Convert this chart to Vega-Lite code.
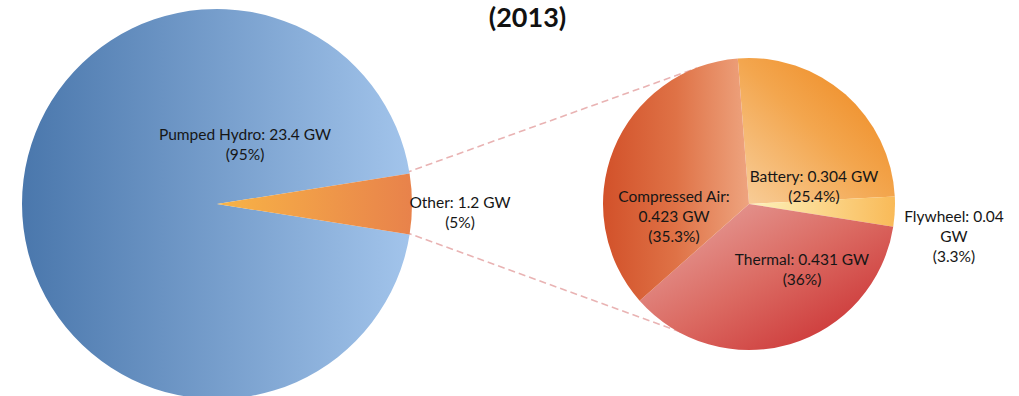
{
  "$schema": "https://vega.github.io/schema/vega-lite/v6.json",
  "width": 1019,
  "height": 396,
  "autosize": "none",
  "padding": {"left": 0, "right": 0, "top": 6, "bottom": 0},
  "background": "white",
  "config": {"view": {"stroke": null}, "text": {"font": "Lato", "fontSize": 15.5, "color": "#161616", "lineBreak": "\n", "lineHeight": 20, "align": "center", "baseline": "middle"}},
  "title": {"text": "(2013)", "font": "Lato", "fontSize": 27, "fontWeight": "bold", "color": "#111111", "offset": -27, "dx": 18},
  "datasets": {
    "storage": [
      {"pie": "Total", "slice": "Other", "gw": 1.2, "pct": 5, "order": 0, "label": "Other: 1.2 GW\n(5%)"},
      {"pie": "Total", "slice": "Pumped Hydro", "gw": 23.4, "pct": 95, "order": 1, "label": "Pumped Hydro: 23.4 GW\n(95%)"},
      {"pie": "Other", "slice": "Battery", "gw": 0.304, "pct": 25.4, "order": 0, "label": "Battery: 0.304 GW\n(25.4%)"},
      {"pie": "Other", "slice": "Flywheel", "gw": 0.04, "pct": 3.3, "order": 1, "label": "Flywheel: 0.04\nGW\n(3.3%)"},
      {"pie": "Other", "slice": "Thermal", "gw": 0.431, "pct": 36, "order": 2, "label": "Thermal: 0.431 GW\n(36%)"},
      {"pie": "Other", "slice": "Compressed Air", "gw": 0.423, "pct": 35.3, "order": 3, "label": "Compressed Air:\n0.423 GW\n(35.3%)"}
    ],
    "connectors": [
      {"link": "top", "from_x": 405, "from_y": 173, "to_x": 697, "to_y": 68},
      {"link": "bottom", "from_x": 405, "from_y": 232, "to_x": 686, "to_y": 334}
    ]
  },
  "layer": [
    {
      "data": {"name": "connectors"},
      "mark": {"type": "rule", "stroke": "#e9b3b3", "strokeWidth": 1.6, "strokeDash": [7, 4]},
      "encoding": {
        "x": {"field": "from_x", "type": "quantitative", "scale": {"domain": [0, 1019], "range": [0, 1019]}, "axis": null},
        "x2": {"field": "to_x"},
        "y": {"field": "from_y", "type": "quantitative", "scale": {"domain": [6, 402], "range": [0, 396]}, "axis": null},
        "y2": {"field": "to_y"}
      }
    },
    {
      "data": {"name": "storage"},
      "transform": [
        {"stack": "pct", "groupby": ["pie"], "sort": [{"field": "order", "order": "ascending"}], "as": ["v0", "v1"]},
        {"filter": "datum.pie === 'Total'"}
      ],
      "encoding": {
        "x": {"field": "pie", "type": "nominal", "scale": {"type": "point", "padding": 0, "domain": ["Total", "Other"], "range": [217, 749]}, "axis": null}
      },
      "layer": [
        {
          "transform": [{"filter": "datum.slice === 'Pumped Hydro'"}],
          "mark": {"type": "arc", "outerRadius": 195, "fill": {"gradient": "linear", "x1": 0, "y1": 0.5, "x2": 1, "y2": 0.5, "stops": [{"offset": 0, "color": "#4a77ac"}, {"offset": 1, "color": "#a2c4eb"}]}},
          "encoding": {
            "theta": {"field": "v0", "type": "quantitative", "scale": {"domain": [0, 100], "range": [1.4137, 7.6969]}},
            "theta2": {"field": "v1"}
          }
        },
        {
          "transform": [{"filter": "datum.slice === 'Other'"}],
          "mark": {"type": "arc", "outerRadius": 195, "fill": {"gradient": "linear", "x1": 0, "y1": 0.5, "x2": 1, "y2": 0.5, "stops": [{"offset": 0, "color": "#f8b446"}, {"offset": 1, "color": "#e8824b"}]}},
          "encoding": {
            "theta": {"field": "v0", "type": "quantitative", "scale": {"domain": [0, 100], "range": [1.4137, 7.6969]}},
            "theta2": {"field": "v1"}
          }
        },
        {
          "transform": [{"filter": "datum.slice === 'Pumped Hydro'"}],
          "mark": {"type": "text", "dx": 28, "dy": -69},
          "encoding": {"text": {"field": "label", "type": "nominal"}}
        },
        {
          "transform": [{"filter": "datum.slice === 'Other'"}],
          "mark": {"type": "text", "dx": 243, "dy": -1},
          "encoding": {"text": {"field": "label", "type": "nominal"}}
        }
      ]
    },
    {
      "data": {"name": "storage"},
      "transform": [
        {"stack": "pct", "groupby": ["pie"], "sort": [{"field": "order", "order": "ascending"}], "as": ["v0", "v1"]},
        {"filter": "datum.pie === 'Other'"}
      ],
      "encoding": {
        "x": {"field": "pie", "type": "nominal", "scale": {"type": "point", "padding": 0, "domain": ["Total", "Other"], "range": [217, 749]}, "axis": null}
      },
      "layer": [
        {
          "transform": [{"filter": "datum.slice === 'Battery'"}],
          "mark": {"type": "arc", "outerRadius": 146, "fill": {"gradient": "linear", "x1": 1, "y1": 0, "x2": 0, "y2": 1, "stops": [{"offset": 0, "color": "#ed8216"}, {"offset": 0.5, "color": "#f3a64e"}, {"offset": 1, "color": "#f8cf9c"}]}},
          "encoding": {
            "theta": {"field": "v0", "type": "quantitative", "scale": {"domain": [0, 100], "range": [-0.0768, 6.2064]}},
            "theta2": {"field": "v1"}
          }
        },
        {
          "transform": [{"filter": "datum.slice === 'Flywheel'"}],
          "mark": {"type": "arc", "outerRadius": 146, "fill": {"gradient": "linear", "x1": 0, "y1": 0.5, "x2": 1, "y2": 0.5, "stops": [{"offset": 0, "color": "#fdf2bc"}, {"offset": 1, "color": "#f9ba58"}]}},
          "encoding": {
            "theta": {"field": "v0", "type": "quantitative", "scale": {"domain": [0, 100], "range": [-0.0768, 6.2064]}},
            "theta2": {"field": "v1"}
          }
        },
        {
          "transform": [{"filter": "datum.slice === 'Thermal'"}],
          "mark": {"type": "arc", "outerRadius": 146, "fill": {"gradient": "linear", "x1": 0, "y1": 0, "x2": 1, "y2": 1, "stops": [{"offset": 0, "color": "#e8aaa6"}, {"offset": 0.5, "color": "#db6a62"}, {"offset": 1, "color": "#c72428"}]}},
          "encoding": {
            "theta": {"field": "v0", "type": "quantitative", "scale": {"domain": [0, 100], "range": [-0.0768, 6.2064]}},
            "theta2": {"field": "v1"}
          }
        },
        {
          "transform": [{"filter": "datum.slice === 'Compressed Air'"}],
          "mark": {"type": "arc", "outerRadius": 146, "fill": {"gradient": "linear", "x1": 0, "y1": 0.5, "x2": 1, "y2": 0.5, "stops": [{"offset": 0, "color": "#d2512a"}, {"offset": 0.5, "color": "#df7246"}, {"offset": 1, "color": "#eea47f"}]}},
          "encoding": {
            "theta": {"field": "v0", "type": "quantitative", "scale": {"domain": [0, 100], "range": [-0.0768, 6.2064]}},
            "theta2": {"field": "v1"}
          }
        },
        {
          "transform": [{"filter": "datum.slice === 'Compressed Air'"}],
          "mark": {"type": "text", "dx": -75, "dy": -7},
          "encoding": {"text": {"field": "label", "type": "nominal"}}
        },
        {
          "transform": [{"filter": "datum.slice === 'Battery'"}],
          "mark": {"type": "text", "dx": 65, "dy": -27},
          "encoding": {"text": {"field": "label", "type": "nominal"}}
        },
        {
          "transform": [{"filter": "datum.slice === 'Flywheel'"}],
          "mark": {"type": "text", "dx": 205, "dy": 13},
          "encoding": {"text": {"field": "label", "type": "nominal"}}
        },
        {
          "transform": [{"filter": "datum.slice === 'Thermal'"}],
          "mark": {"type": "text", "dx": 53, "dy": 56},
          "encoding": {"text": {"field": "label", "type": "nominal"}}
        }
      ]
    }
  ],
  "resolve": {"scale": {"x": "independent", "y": "independent", "theta": "independent"}}
}
